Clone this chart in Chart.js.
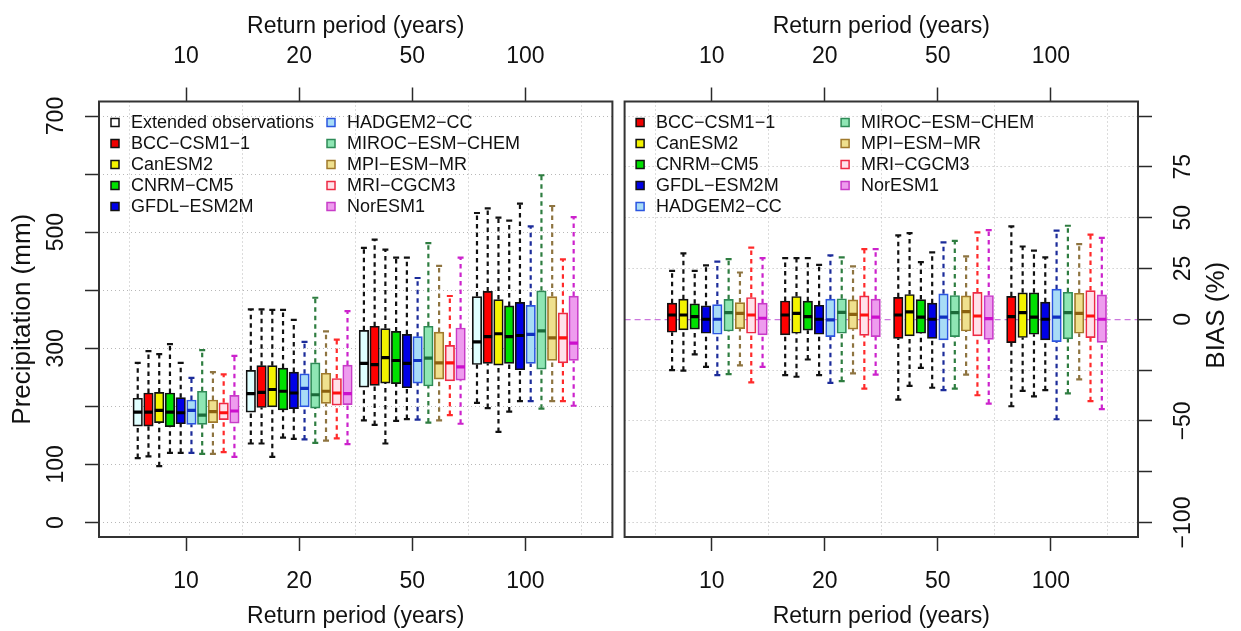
<!DOCTYPE html>
<html><head><meta charset="utf-8">
<script src="https://cdn.jsdelivr.net/npm/chart.js@4.4.1/dist/chart.umd.min.js"></script>
<style>
html,body{margin:0;padding:0;background:#fff;}
#wrap{position:relative;width:1241px;height:631px;overflow:hidden;background:#fff;}
canvas{position:absolute;top:0;}
#cL{left:0;width:620px;height:631px;}
#cR{left:617px;width:624px;height:631px;}
</style></head><body>
<div id="wrap"><canvas id="cL" width="620" height="631"></canvas><canvas id="cR" width="624" height="631"></canvas></div>
<script>
// ---------------- data ----------------
const periods = ['10', '20', '50', '100'];
const precipModels = ['Extended observations', 'BCC−CSM1−1', 'CanESM2', 'CNRM−CM5', 'GFDL−ESM2M',
  'HADGEM2−CC', 'MIROC−ESM−CHEM', 'MPI−ESM−MR', 'MRI−CGCM3', 'NorESM1'];
const biasModels = ['BCC−CSM1−1', 'CanESM2', 'CNRM−CM5', 'GFDL−ESM2M',
  'HADGEM2−CC', 'MIROC−ESM−CHEM', 'MPI−ESM−MR', 'MRI−CGCM3', 'NorESM1'];

const precipTicks = [0, 100, 200, 300, 400, 500, 600, 700];
const precipTickLabels = ['0', '100', '', '300', '', '500', '', '700'];
const biasTicks = [-100, -75, -50, -25, 0, 25, 50, 75, 100];
const biasTickLabels = ['−100', '', '−50', '', '0', '25', '50', '75', ''];

// precipitation (mm): rows = precipModels, columns = periods
const precipLow = [
  [111, 136, 176, 206], [114, 136, 168, 197], [97, 113, 136, 156], [120, 146, 175, 191], [120, 144, 178, 209],
  [120, 143, 177, 209], [118, 137, 172, 196], [118, 141, 176, 209], [121, 145, 185, 209], [113, 135, 170, 201]];
const precipQ1 = [
  [166, 190, 233, 272], [166, 198, 236, 274], [172, 199, 240, 271], [165, 194, 239, 274], [170, 196, 232, 263],
  [169, 199, 240, 274], [169, 197, 235, 264], [172, 205, 247, 279], [177, 202, 244, 275], [171, 203, 245, 279]];
const precipMed = [
  [190, 222, 274, 311], [190, 224, 272, 320], [193, 229, 284, 325], [190, 226, 279, 320], [189, 223, 274, 322],
  [193, 231, 279, 324], [185, 220, 283, 330], [191, 226, 275, 318], [189, 223, 275, 318], [192, 222, 268, 309]];
const precipQ3 = [
  [214, 262, 331, 389], [223, 270, 338, 398], [224, 270, 334, 384], [223, 266, 329, 373], [215, 259, 324, 379],
  [211, 256, 320, 374], [226, 275, 338, 399], [211, 257, 328, 389], [206, 248, 305, 361], [219, 271, 335, 390]];
const precipHigh = [
  [275, 367, 473, 533], [295, 367, 487, 541], [290, 366, 470, 525], [307, 366, 456, 520], [275, 349, 456, 549],
  [249, 311, 421, 510], [297, 387, 481, 598], [259, 329, 442, 545], [255, 315, 390, 453], [287, 364, 456, 526]];

// bias (%): rows = biasModels, columns = periods
const biasLow = [
  [-25, -27.5, -39.5, -42.8], [-25.3, -28.3, -32.8, -35.2], [-17.3, -19.8, -23.9, -37.9],
  [-23.4, -27.5, -33.7, -34.9], [-27.5, -31.3, -34.9, -49.2], [-27, -30.4, -34.1, -36.5],
  [-22.7, -26.6, -27.2, -29.6], [-31.1, -34.1, -37.4, -40.3], [-23.4, -27.2, -41.5, -44.2]];
const biasQ1 = [
  [-6.4, -7.7, -9.4, -11.5], [-5.2, -6.9, -8.2, -9], [-4.9, -5.4, -6.9, -7.4],
  [-6.9, -7.4, -9.4, -10.2], [-7.4, -8.6, -10.2, -11], [-5.8, -6.9, -8.6, -9.7],
  [-4.6, -4.9, -5.8, -6.9], [-6.9, -7.9, -8.2, -9.1], [-7.7, -8.6, -9.9, -11.4]];
const biasMed = [
  [2.1, 2.1, 2.1, 1.3], [2.1, 2.9, 3.6, 3.3], [1.3, 1.3, 1, 1],
  [0, 0, 0, 0], [0, -0.3, 1, 1], [3.3, 3.4, 3.3, 3.3],
  [2.9, 2.4, 3.8, 2.9], [2.1, 2.1, 1.6, 1.6], [0.5, 1, 0.3, 0]];
const biasQ3 = [
  [7.9, 9, 10.8, 11.3], [9.9, 11.2, 12.2, 13], [7.6, 8.9, 9.7, 13],
  [6.6, 6.9, 7.9, 8.4], [7.2, 9.9, 12.5, 14.8], [9.8, 10.1, 11.7, 13.3],
  [8.2, 9.5, 11.5, 12.8], [10.7, 11.5, 13.2, 14.1], [7.9, 9.9, 11.7, 12]];
const biasHigh = [
  [23.8, 30.1, 41.3, 45.7], [32.4, 30.1, 42.4, 35.8], [23.8, 30.1, 28.1, 33.8],
  [26.5, 26.8, 32.9, 30.4], [28.4, 31.4, 37.8, 43.6], [29.6, 30.4, 38.6, 46],
  [23, 26, 30.9, 37], [35.2, 34.5, 42.7, 41.6], [30.1, 34.5, 43.9, 40]];

// ---------------- styles ----------------
const FONT = "'Liberation Sans', Arial, Helvetica, sans-serif";
const TXT = '#111111';
const AXIS = '#2a2a2a';
const GRID = '#b8b8b8';
const modelStyle = {
  'Extended observations': {fill: '#e0ffff', border: '#111111', median: '#000000', whisker: '#111111', key: '#ffffff', keyBorder: '#111111'},
  'BCC−CSM1−1':      {fill: '#ff0000', border: '#111111', median: '#000000', whisker: '#111111', key: '#ee0000', keyBorder: '#111111'},
  'CanESM2':         {fill: '#f4f400', border: '#111111', median: '#000000', whisker: '#111111', key: '#f4f400', keyBorder: '#111111'},
  'CNRM−CM5':        {fill: '#00e000', border: '#111111', median: '#000000', whisker: '#111111', key: '#00e000', keyBorder: '#111111'},
  'GFDL−ESM2M':      {fill: '#0000e6', border: '#111111', median: '#000000', whisker: '#111111', key: '#0000e6', keyBorder: '#111111'},
  'HADGEM2−CC':      {fill: '#a8dcf6', border: '#2b55e0', median: '#1030c0', whisker: '#1c2c9a', key: '#a8dcf6', keyBorder: '#2b55e0'},
  'MIROC−ESM−CHEM':  {fill: '#8fe6b4', border: '#2e8b57', median: '#1b6b3a', whisker: '#2e7d40', key: '#8fe6b4', keyBorder: '#2e8b57'},
  'MPI−ESM−MR':      {fill: '#efe08e', border: '#a07a2c', median: '#8b6010', whisker: '#8e7440', key: '#efe08e', keyBorder: '#a07a2c'},
  'MRI−CGCM3':       {fill: '#ffe2ea', border: '#ee2a44', median: '#ff1010', whisker: '#ff2a2a', key: '#ffe2ea', keyBorder: '#ee2a44'},
  'NorESM1':         {fill: '#ee9cee', border: '#c83cc8', median: '#cc10cc', whisker: '#cc22cc', key: '#ee9cee', keyBorder: '#c83cc8'}
};

Chart.defaults.font.family = FONT;
Chart.defaults.color = TXT;

const XMIN = 0.23, XMAX = 4.77;
const xTickValues = [];
periods.forEach((p, g) => { xTickValues.push(g + 0.5, g + 1); });
xTickValues.push(periods.length + 0.5);

function buildDatasets(models, low, q1, med, q3, high, spacing, slotShift) {
  const ds = [];
  models.forEach((m, i) => {
    const st = modelStyle[m];
    const off = (i + slotShift - 4.5) * spacing;
    const xs = periods.map((p, g) => g + 1 + off);
    ds.push({
      type: 'bar', label: m,
      data: xs.map((x, g) => ({x: x, y: [q1[i][g], q3[i][g]]})),
      backgroundColor: st.fill, borderColor: st.border, borderWidth: 1.7,
      borderSkipped: false, barThickness: 9.5, grouped: false, order: 2
    });
    const wd = [], wr = [];
    xs.forEach((x, g) => {
      wd.push({x: x, y: low[i][g]}, {x: x, y: q1[i][g]}, {x: x, y: null},
              {x: x, y: q3[i][g]}, {x: x, y: high[i][g]}, {x: x, y: null});
      wr.push(3, 0, 0, 0, 3, 0);
    });
    ds.push({
      type: 'line', label: m + ' whiskers', data: wd,
      borderColor: st.whisker, borderWidth: 2.2, borderDash: [4.5, 4], borderCapStyle: 'butt', spanGaps: false,
      pointStyle: 'line', pointRadius: wr, pointBorderColor: st.whisker,
      pointBackgroundColor: st.whisker, pointBorderWidth: 2.2, fill: false, order: 3
    });
    ds.push({
      type: 'line', label: m + ' median',
      data: xs.map((x, g) => ({x: x, y: med[i][g]})),
      showLine: false, pointStyle: 'line', pointRadius: 4.4, pointBorderWidth: 3.2,
      pointBorderColor: st.median, pointBackgroundColor: st.median, order: 1
    });
  });
  return ds;
}

function xScale(position, isBottom) {
  return {
    type: 'linear', position: position, min: XMIN, max: XMAX, offset: false, bounds: 'data',
    afterBuildTicks: s => { s.ticks = xTickValues.map(v => ({value: v})); },
    afterFit: s => { s.height = isBottom ? 94 : 101.5; },
    ticks: {
      autoSkip: false, maxRotation: 0, minRotation: 0, padding: 17, color: TXT,
      font: {family: FONT, size: 23},
      callback: v => Number.isInteger(v) ? periods[v - 1] : ''
    },
    grid: {
      drawOnChartArea: isBottom, offset: false, tickLength: 14, tickWidth: 1.5, lineWidth: 1,
      color: c => (c.tick && Number.isInteger(c.tick.value)) ? 'rgba(0,0,0,0)' : GRID,
      tickColor: c => (c.tick && Number.isInteger(c.tick.value)) ? AXIS : 'rgba(0,0,0,0)'
    },
    border: {display: false, dash: [1, 3]},
    title: {
      display: true, text: 'Return period (years)', color: TXT, font: {family: FONT, size: 23},
      padding: isBottom ? {top: 0, bottom: 1} : {top: 13, bottom: 0}
    }
  };
}

const framePlugin = {
  id: 'frame',
  afterDraw(chart) {
    const {ctx, chartArea: a} = chart;
    ctx.save();
    ctx.strokeStyle = '#333333';
    ctx.lineWidth = 2;
    ctx.strokeRect(a.left, a.top, a.right - a.left, a.bottom - a.top);
    ctx.restore();
  }
};

const keyLegend = {
  id: 'keyLegend',
  afterDatasetsDraw(chart, args, opts) {
    const {ctx, chartArea: a} = chart;
    ctx.save();
    ctx.font = '18px ' + FONT;
    ctx.textBaseline = 'middle';
    ctx.textAlign = 'left';
    opts.columns.forEach(col => {
      col.items.forEach((name, r) => {
        const st = modelStyle[name];
        const y = a.top + opts.rowTop + r * opts.rowGap;
        const x = a.left + col.dx;
        ctx.fillStyle = st.key;
        ctx.fillRect(x - 4, y - 4, 8, 8);
        ctx.strokeStyle = st.keyBorder;
        ctx.lineWidth = 1.5;
        ctx.strokeRect(x - 4, y - 4, 8, 8);
        ctx.fillStyle = TXT;
        ctx.fillText(name, a.left + col.textDx, y + 1);
      });
    });
    ctx.restore();
  }
};

const rightTitle = {
  id: 'rightTitle',
  afterDraw(chart, args, opts) {
    const {ctx, chartArea: a} = chart;
    ctx.save();
    ctx.font = opts.size + 'px ' + FONT;
    ctx.fillStyle = TXT;
    ctx.textAlign = 'center';
    ctx.textBaseline = 'middle';
    ctx.translate(a.right + opts.dx, (a.top + a.bottom) / 2 + opts.dy);
    ctx.rotate(-Math.PI / 2);
    ctx.fillText(opts.text, 0, 0);
    ctx.restore();
  }
};

// ---------------- left chart ----------------
new Chart(document.getElementById('cL'), {
  type: 'bar',
  data: {datasets: buildDatasets(precipModels, precipLow, precipQ1, precipMed, precipQ3, precipHigh, 0.095, 0)},
  options: {
    responsive: false, animation: false, events: [],
    layout: {padding: {left: 0, right: 1, top: 0, bottom: 0}},
    plugins: {
      legend: {display: false}, tooltip: {enabled: false},
      keyLegend: {
        rowTop: 21, rowGap: 21,
        columns: [
          {dx: 16, textDx: 32, items: precipModels.slice(0, 5)},
          {dx: 232, textDx: 248, items: precipModels.slice(5)}
        ]
      }
    },
    scales: {
      x: xScale('bottom', true),
      xTop: xScale('top', false),
      y: {
        type: 'linear', position: 'left', min: -25, max: 725, bounds: 'data', beginAtZero: false,
        afterBuildTicks: s => { s.ticks = precipTicks.map(v => ({value: v})); },
        afterFit: s => { s.width = 99; },
        ticks: {
          autoSkip: false, minRotation: 90, maxRotation: 90, crossAlign: 'center', padding: 9,
          color: TXT, font: {family: FONT, size: 23},
          callback: (v, i) => precipTickLabels[precipTicks.indexOf(v)]
        },
        grid: {color: GRID, tickColor: AXIS, tickLength: 14, tickWidth: 1.5, lineWidth: 1},
        border: {display: false, dash: [1, 3]},
        title: {display: true, text: 'Precipitation (mm)', color: TXT, font: {family: FONT, size: 26}, padding: {top: 7, bottom: 0}}
      }
    }
  },
  plugins: [framePlugin, keyLegend]
});

// ---------------- right chart ----------------
const BIAS_EXT = 100 + 25 * 200 / 700;
new Chart(document.getElementById('cR'), {
  type: 'bar',
  data: {datasets: buildDatasets(biasModels, biasLow, biasQ1, biasMed, biasQ3, biasHigh, 0.1, 1)},
  options: {
    responsive: false, animation: false, events: [],
    layout: {padding: {left: 2, right: 0, top: 0, bottom: 0}},
    plugins: {
      legend: {display: false}, tooltip: {enabled: false},
      keyLegend: {
        rowTop: 21, rowGap: 21,
        columns: [
          {dx: 15.5, textDx: 31.5, items: biasModels.slice(0, 5)},
          {dx: 220.5, textDx: 236.5, items: biasModels.slice(5)}
        ]
      },
      rightTitle: {text: 'BIAS (%)', dx: 79, dy: -4, size: 26}
    },
    scales: {
      x: xScale('bottom', true),
      xTop: xScale('top', false),
      y: {
        type: 'linear', position: 'right', min: -BIAS_EXT, max: BIAS_EXT, bounds: 'data', beginAtZero: false,
        afterBuildTicks: s => { s.ticks = biasTicks.map(v => ({value: v})); },
        afterFit: s => { s.width = 103; },
        ticks: {
          autoSkip: false, minRotation: 90, maxRotation: 90, crossAlign: 'center', padding: 6,
          color: TXT, font: {family: FONT, size: 23},
          callback: (v, i) => biasTickLabels[biasTicks.indexOf(v)]
        },
        grid: {
          color: c => (c.tick && c.tick.value === 0) ? '#cc77dd' : GRID,
          tickColor: AXIS, tickLength: 14, tickWidth: 1.5,
          lineWidth: c => (c.tick && c.tick.value === 0) ? 1.3 : 1
        },
        border: {display: false, dash: c => (c.tick && c.tick.value === 0) ? [6, 4] : [1, 3]},
        title: {display: false}
      }
    }
  },
  plugins: [framePlugin, keyLegend, rightTitle]
});
</script>
</body></html>
